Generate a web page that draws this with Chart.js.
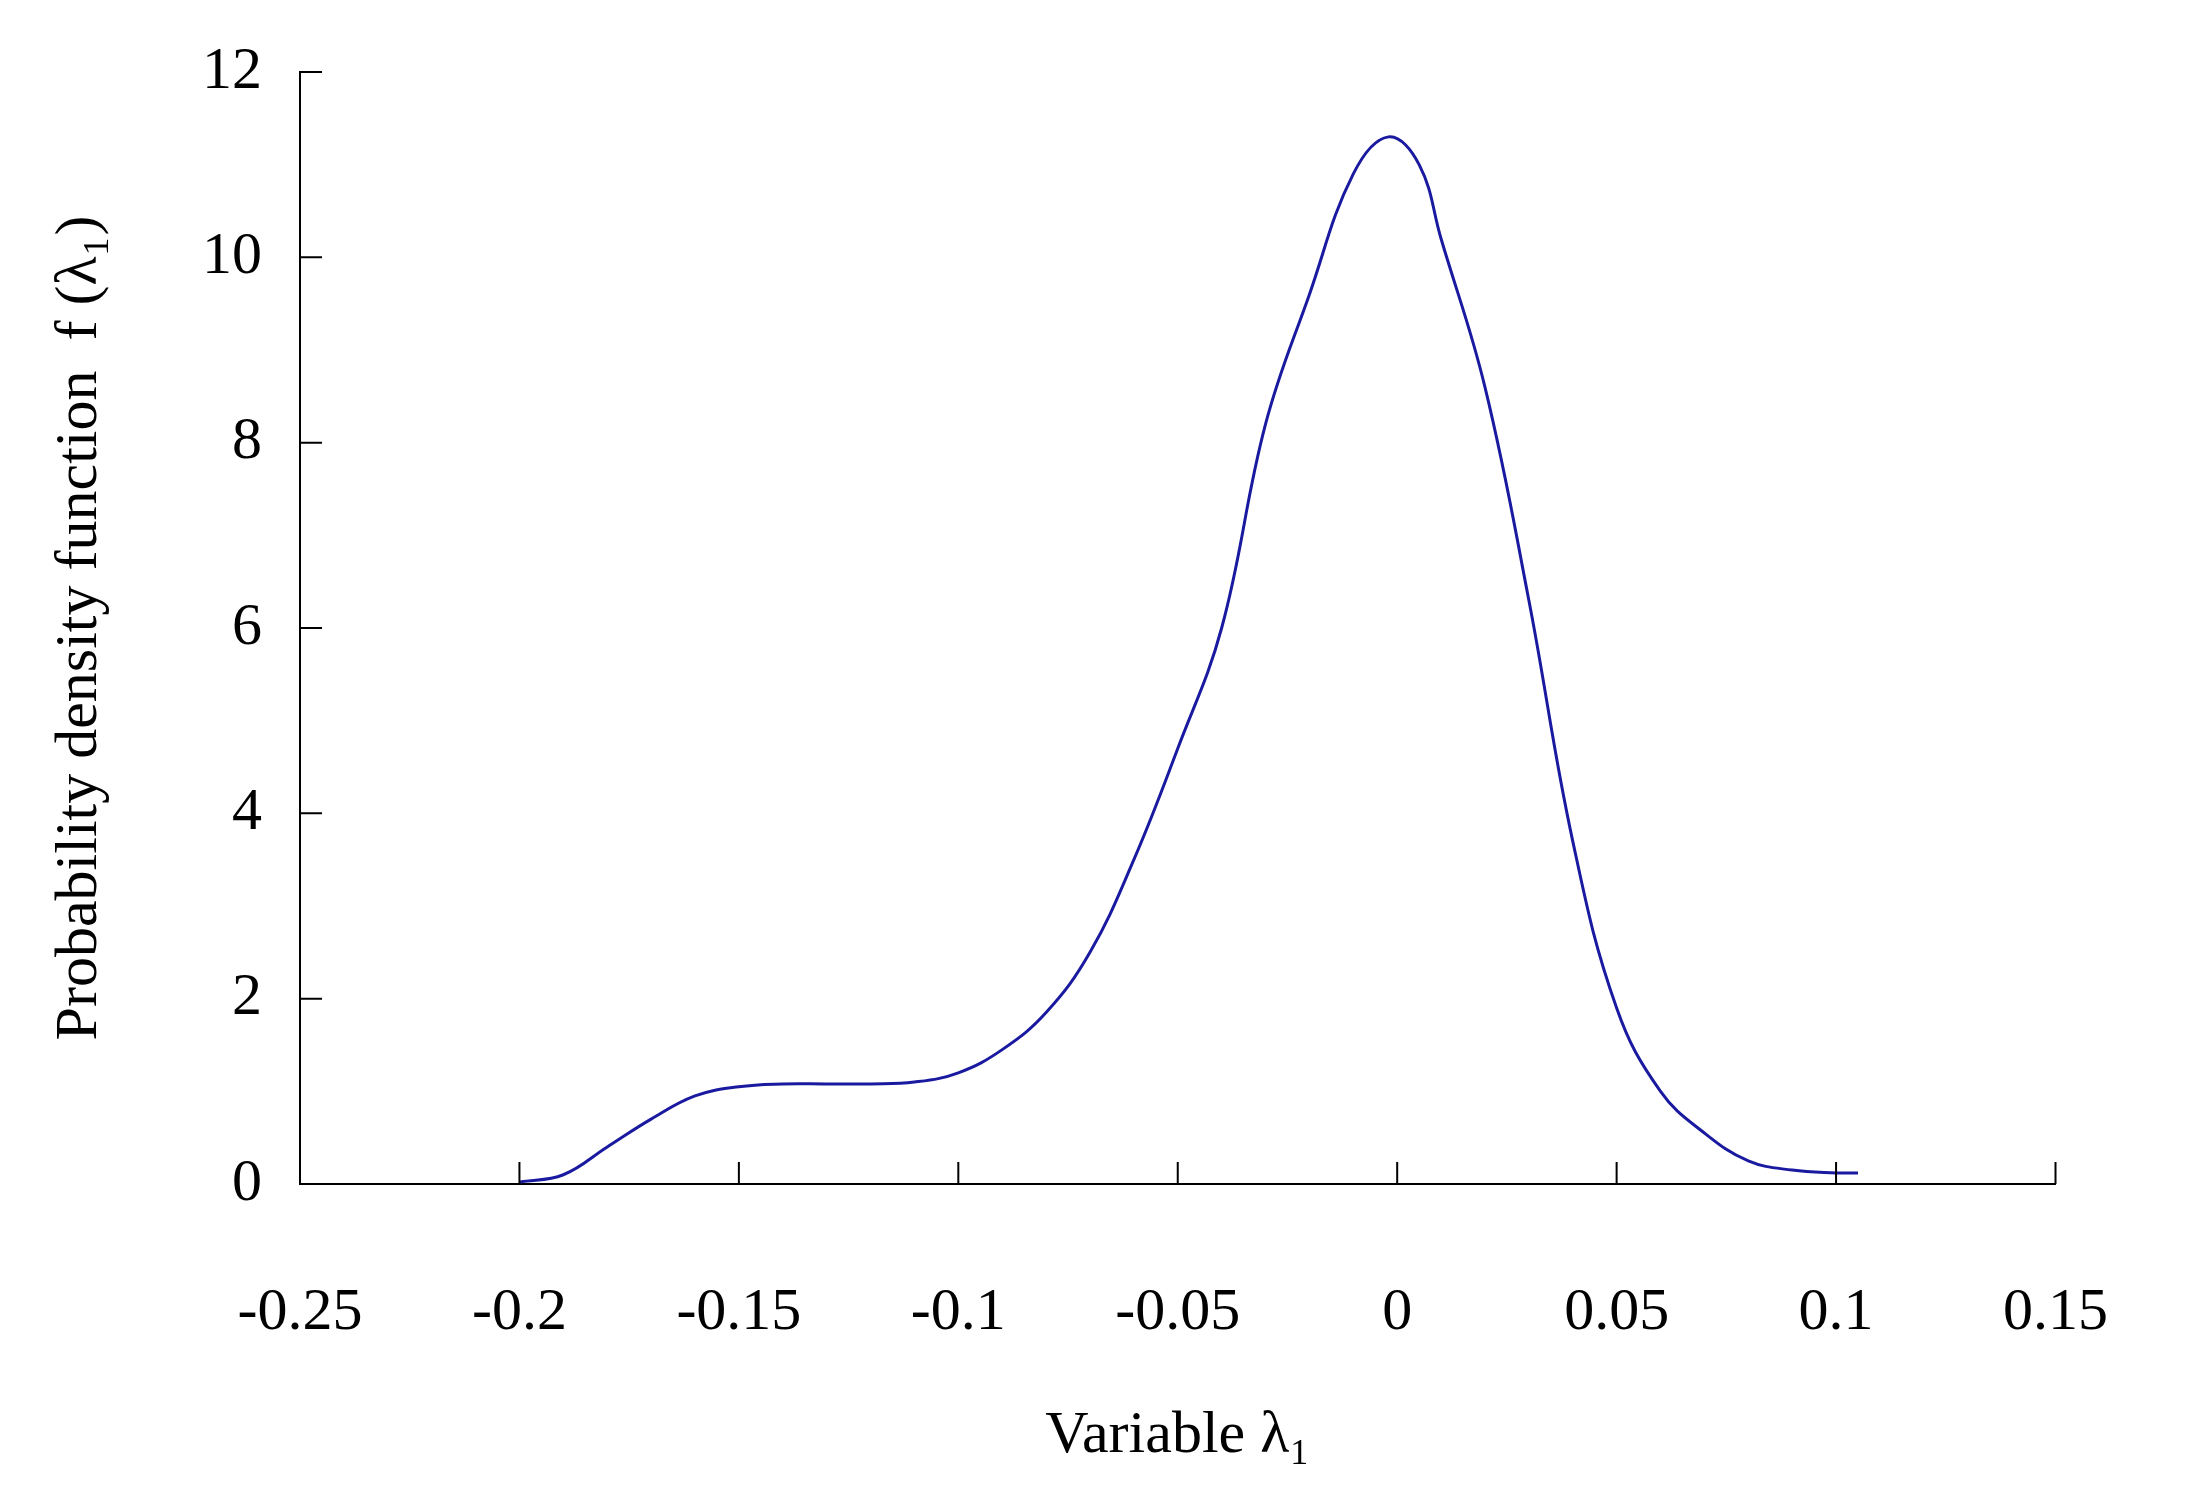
<!DOCTYPE html>
<html><head><script src="https://cdn.jsdelivr.net/npm/chart.js@4"></script>
<style>body{margin:0;background:#fff}</style></head>
<body><canvas id="c" width="2193" height="1511"></canvas>
<script>
const xs=[-0.2,-0.19,-0.18,-0.17,-0.16,-0.15,-0.14,-0.13,-0.12,-0.11,-0.10,-0.09,-0.08,-0.07,-0.06,-0.05,-0.04,-0.03,-0.02,-0.01,-0.002,0.005,0.01,0.02,0.03,0.04,0.05,0.06,0.07,0.08,0.09,0.1,0.105];
const ys=[0.02,0.1,0.4,0.7,0.95,1.05,1.08,1.08,1.08,1.1,1.2,1.45,1.85,2.5,3.5,4.7,6.0,8.2,9.6,10.9,11.3,11.0,10.2,8.6,6.3,3.7,1.9,1.0,0.55,0.25,0.15,0.12,0.12];
const xTicks=[-0.25,-0.2,-0.15,-0.1,-0.05,0,0.05,0.1,0.15];
const yTicks=[0,2,4,6,8,10,12];
const font={family:'Liberation Serif',size:60};
const innerTicks={id:'it',afterDraw(ch){const c=ch.ctx,x=ch.scales.x,y=ch.scales.y;c.save();c.strokeStyle='#000';c.lineWidth=2;c.beginPath();
xTicks.forEach(v=>{const p=x.getPixelForValue(v);c.moveTo(p,y.bottom);c.lineTo(p,y.bottom-22);});
yTicks.forEach(v=>{const p=y.getPixelForValue(v);c.moveTo(x.left,p);c.lineTo(x.left+22,p);});
c.stroke();c.restore();}};
new Chart(document.getElementById('c'),{type:'line',
data:{datasets:[{data:xs.map((v,i)=>({x:v,y:ys[i]})),borderColor:'#1a1aa0',borderWidth:3,pointRadius:0,tension:0.4,fill:false}]},
options:{responsive:false,animation:false,layout:{padding:{top:72,right:94,left:40,bottom:35}},
plugins:{legend:{display:false},tooltip:{enabled:false}},
scales:{
x:{type:'linear',min:-0.25,max:0.15,afterBuildTicks:s=>{s.ticks=xTicks.map(v=>({value:v}));},
ticks:{font,color:'#000',padding:85,maxRotation:0,callback:v=>String(v)},
grid:{display:false},border:{display:true,color:'#000',width:2},
title:{display:true,text:'Variable λ₁',font,color:'#000',padding:{top:40}},
afterFit:s=>{s.height=292;}},
y:{min:0,max:12,afterBuildTicks:s=>{s.ticks=yTicks.map(v=>({value:v}));},
ticks:{font,color:'#000',padding:30},
grid:{display:false},border:{display:true,color:'#000',width:2},
title:{display:true,text:'Probability density function  f (λ₁)',font,color:'#000'},
afterFit:s=>{s.width=260;}}}},
plugins:[innerTicks]});
</script></body></html>
